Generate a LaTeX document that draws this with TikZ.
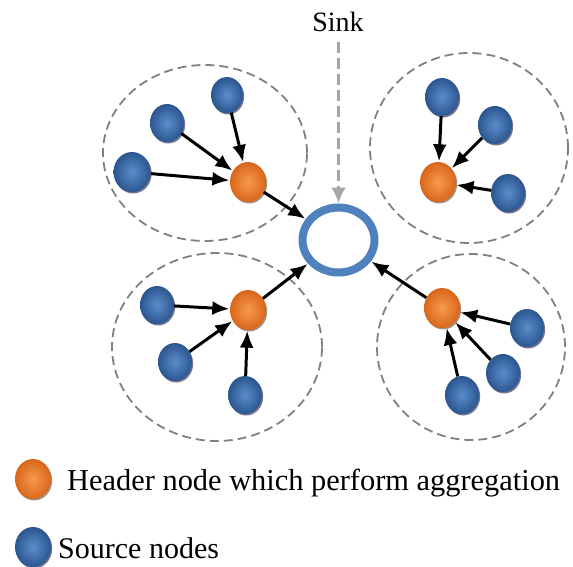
\documentclass[tikz,border=0pt]{standalone}
\usepackage{fontspec}
\setmainfont{Liberation Serif}
\usetikzlibrary{shapes.geometric,arrows.meta,shadows}

\definecolor{srcLight}{HTML}{5B8DCC}
\definecolor{srcDark}{HTML}{2B568F}
\definecolor{hdrLight}{HTML}{F79A4E}
\definecolor{hdrDark}{HTML}{D9661A}
\definecolor{sinkBlue}{HTML}{4F81BD}
\definecolor{zoneGray}{HTML}{808080}
\definecolor{feedGray}{HTML}{A6A6A6}

\tikzset{
  source/.style={ellipse, minimum width=34pt, minimum height=38pt, inner sep=0pt,
    inner color=srcLight, outer color=srcDark,
    drop shadow={shadow xshift=1.2pt, shadow yshift=-1.5pt, fill=black!80!blue, opacity=0.55}},
  header/.style={ellipse, minimum width=36pt, minimum height=40pt, inner sep=0pt,
    inner color=hdrLight, outer color=hdrDark,
    drop shadow={shadow xshift=1.2pt, shadow yshift=-1.5pt, fill=black!70!orange, opacity=0.5}},
  sinknode/.style={ellipse, draw=sinkBlue, line width=8pt, fill=white,
    minimum width=72pt, minimum height=65pt, inner sep=0pt},
  zone/.style={ellipse, draw=zoneGray, line width=1.8pt, dash pattern=on 9pt off 5pt,
    inner sep=0pt},
  flow/.style={draw=black, line width=3pt, -{Latex[length=17pt,width=14pt]}, shorten >=0.5pt},
  feed/.style={draw=feedGray, line width=3.5pt, dash pattern=on 11pt off 5pt,
    -{Latex[length=16pt,width=15pt]}},
  label/.style={inner sep=0pt, text=black}
}

\begin{document}
\begin{tikzpicture}[x=1pt, y=-1pt]
  \useasboundingbox (0,0) rectangle (573,567);

  % cluster boundaries
  \node[zone, minimum width=204pt, minimum height=176pt] (z1) at (205,153) {};
  \node[zone, minimum width=198pt, minimum height=190pt] (z2) at (469,148) {};
  \node[zone, minimum width=210pt, minimum height=188pt] (z3) at (217,347) {};
  \node[zone, minimum width=188pt, minimum height=186pt] (z4) at (471,347) {};

  % sink
  \node[sinknode] (sink) at (338.5,240) {};
  \node[label, font=\fontsize{28}{34}\selectfont, anchor=base] (sinklbl) at (338,32) {Sink};
  \coordinate (feedtop) at (338.5,42);
  \draw[feed] (feedtop) -- (sink.north);

  % top-left cluster
  \node[header] (h1) at (248,182) {};
  \node[source, minimum width=32pt, minimum height=36pt] (a1) at (227,95) {};
  \node[source] (a2) at (167,123) {};
  \node[source, minimum width=37pt, minimum height=40pt] (a3) at (132,172) {};
  \draw[flow] (a1) -- (h1);
  \draw[flow] (a2) -- (h1);
  \draw[flow] (a3) -- (h1);
  \draw[flow] (h1) -- (sink);

  % top-right cluster
  \node[header] (h2) at (438,182) {};
  \node[source] (b1) at (442,97) {};
  \node[source] (b2) at (495,125) {};
  \node[source] (b3) at (508,193) {};
  \draw[flow] (b1) -- (h2);
  \draw[flow] (b2) -- (h2);
  \draw[flow] (b3) -- (h2);

  % bottom-left cluster
  \node[header] (h3) at (248,310) {};
  \node[source] (c1) at (157,305) {};
  \node[source] (c2) at (175,362) {};
  \node[source] (c3) at (245,395) {};
  \draw[flow] (c1) -- (h3);
  \draw[flow] (c2) -- (h3);
  \draw[flow] (c3) -- (h3);
  \draw[flow] (h3) -- (sink);

  % bottom-right cluster
  \node[header] (h4) at (442,308) {};
  \node[source] (d1) at (527,328) {};
  \node[source] (d2) at (503,373) {};
  \node[source] (d3) at (462,395) {};
  \draw[flow] (d1) -- (h4);
  \draw[flow] (d2) -- (h4);
  \draw[flow] (d3) -- (h4);
  \draw[flow] (h4) -- (sink);

  % legend
  \node[header] (lh) at (33,479) {};
  \node[label, font=\fontsize{30.4}{36}\selectfont, anchor=base west] (lhtext) at (67,490)
    {Header node which perform aggregation};
  \node[source, minimum width=36pt, minimum height=40pt] (ls) at (33,547) {};
  \node[label, font=\fontsize{30}{36}\selectfont, anchor=base west] (lstext) at (58,558)
    {Source nodes};
\end{tikzpicture}
\end{document}
